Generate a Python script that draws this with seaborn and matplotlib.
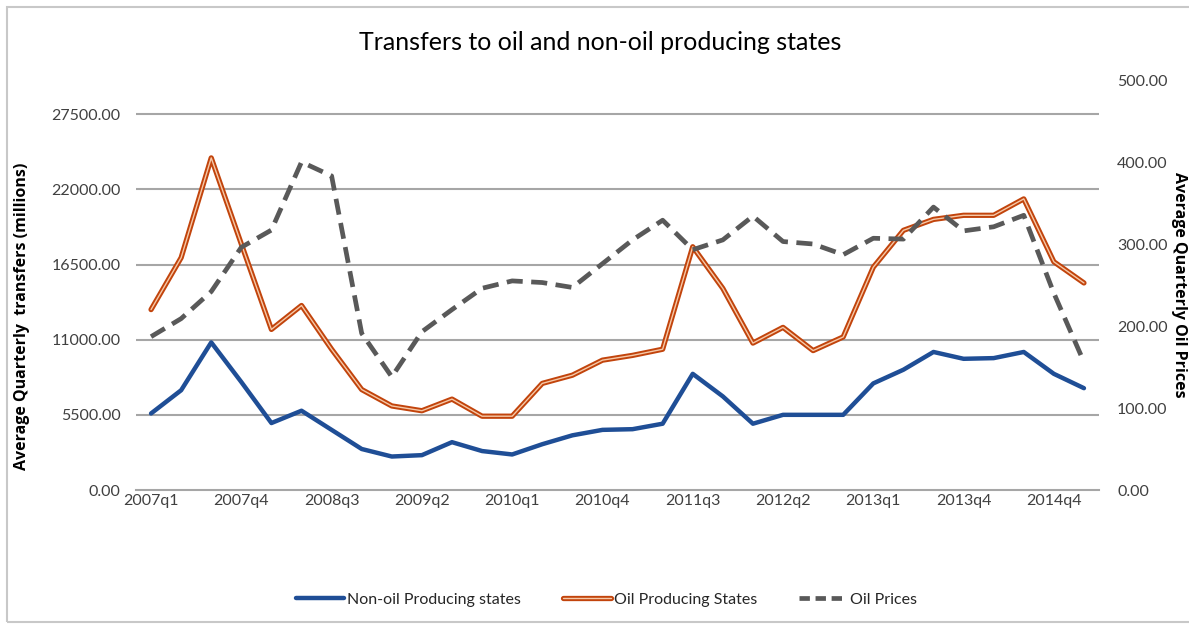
import numpy as np
import pandas as pd
import matplotlib
matplotlib.use("Agg")
import matplotlib.pyplot as plt
import matplotlib.patheffects as pe
from matplotlib.lines import Line2D
from matplotlib.patches import Rectangle
import seaborn as sns

quarters = ["2007q1", "2007q2", "2007q3", "2007q4", "2008q1", "2008q2", "2008q3", "2008q4",
            "2009q1", "2009q2", "2009q3", "2009q4", "2010q1", "2010q2", "2010q3", "2010q4",
            "2011q1", "2011q2", "2011q3", "2011q4", "2012q1", "2012q2", "2012q3", "2012q4",
            "2013q1", "2013q2", "2013q3", "2013q4", "2014q1", "2014q2", "2014q4", "2015q1"]

non_oil = [5600, 7300, 10800, 7900, 4900, 5800, 4400, 3000, 2450, 2550, 3500, 2850,
           2600, 3350, 4000, 4400, 4450, 4850, 8500, 6850, 4850, 5500, 5500, 5500,
           7800, 8800, 10100, 9600, 9650, 10100, 8500, 7450]

oil_states = [13200, 17000, 24300, 18000, 11750, 13500, 10300, 7350, 6150, 5800, 6650, 5400,
              5400, 7800, 8400, 9500, 9850, 10300, 17800, 14750, 10750, 11900, 10200, 11200,
              16300, 19000, 19800, 20100, 20100, 21300, 16700, 15150]

oil_prices = [187, 209, 242, 296, 317, 400, 383, 191, 138, 193, 220, 246,
              255, 253, 247, 276, 305, 329, 293, 305, 334, 303, 300, 287,
              307, 306, 345, 316, 321, 335, 240, 156]

left_ticks = [0, 5500, 11000, 16500, 22000, 27500]
right_ticks = [0, 100, 200, 300, 400, 500]

sns.set_theme(style="white")
plt.rcParams['font.family'] = ['Lato', 'DejaVu Sans']

df = pd.DataFrame({
    "pos": np.arange(len(quarters)),
    "quarter": quarters,
    "non_oil": non_oil,
    "oil_states": oil_states,
    "oil_prices": oil_prices,
})

fig = plt.figure(figsize=(11.89, 6.25), dpi=100)
ax = fig.add_axes([136 / 1189, 1 - 490 / 625, (1099 - 136) / 1189, (490 - 80) / 625])
ax2 = ax.twinx()

blue = "#1F4E96"
orange = "#C2440C"
gray = "#595959"

sns.lineplot(data=df, x="pos", y="non_oil", ax=ax, color=blue, linewidth=3.2,
             solid_capstyle="round", solid_joinstyle="round", zorder=3)
sns.lineplot(data=df, x="pos", y="oil_states", ax=ax, color="#F6C9A8", linewidth=1.0,
             solid_joinstyle="round", zorder=4,
             path_effects=[pe.Stroke(linewidth=3.8, foreground=orange), pe.Normal()])
sns.lineplot(data=df, x="pos", y="oil_prices", ax=ax2, color=gray, linewidth=3.4,
             dashes=False, linestyle=(0, (3.4, 1.8)), zorder=3)

ax.set_xlim(-0.5, len(quarters) - 0.5)
ax.set_ylim(0, 30000)
ax2.set_ylim(0, 500)

ax.set_yticks(left_ticks)
ax.set_yticklabels([f"{v:.2f}" for v in left_ticks], fontsize=11.5, color="#404040")
ax2.set_yticks(right_ticks)
ax2.set_yticklabels([f"{v:.2f}" for v in right_ticks], fontsize=11.5, color="#404040")

label_pos = list(range(0, len(quarters), 3))
ax.set_xticks(label_pos)
ax.set_xticklabels([quarters[i] for i in label_pos], fontsize=11.5, color="#404040")
ax.set_xticks(np.arange(-0.5, len(quarters), 3), minor=True)
ax.tick_params(axis="x", which="major", length=0, pad=3)
ax.tick_params(axis="x", which="minor", length=5, width=1.2, color="#a6a6a6", direction="out")
ax.tick_params(axis="y", length=0, pad=11)
ax2.tick_params(axis="y", length=0, pad=13)

ax.grid(False)
ax2.grid(False)
for v in left_ticks[1:]:
    ax.axhline(v, color="#a6a6a6", linewidth=1.5, zorder=1)

for a in (ax, ax2):
    for s in ("top", "left", "right", "bottom"):
        a.spines[s].set_visible(False)
ax.spines["bottom"].set_visible(True)
ax.spines["bottom"].set_color("#a6a6a6")
ax.spines["bottom"].set_linewidth(1.5)

ax.set_xlabel("")
ax.set_ylabel("")
ax2.set_ylabel("")
fig.text(22 / 1189, 1 - 316 / 625, "Average Quarterly  transfers (millions)",
         rotation=90, ha="center", va="center", fontsize=11.5, fontweight="bold",
         family=["Open Sans", "DejaVu Sans"], color="black")
fig.text(1179 / 1189, 1 - 285 / 625, "Average Quarterly Oil Prices",
         rotation=-90, ha="center", va="center", fontsize=11.5, fontweight="bold",
         family=["Open Sans", "DejaVu Sans"], color="black")

fig.text(0.505, 1 - 42 / 625, "Transfers to oil and non-oil producing states",
         ha="center", va="center", fontsize=18, color="black")

handles = [
    Line2D([], [], color=blue, linewidth=3.2),
    Line2D([], [], color="#F6C9A8", linewidth=1.0,
           path_effects=[pe.Stroke(linewidth=3.8, foreground=orange), pe.Normal()]),
    Line2D([], [], color=gray, linewidth=3.4, linestyle=(0, (2.2, 1.2))),
]
labels = ["Non-oil Producing states", "Oil Producing States", "Oil Prices"]
fig.legend(handles, labels, loc="center", bbox_to_anchor=(0.51, 1 - 600 / 625), ncol=3,
           frameon=False, fontsize=11.5, handlelength=3.0, handletextpad=0.2,
           columnspacing=2.6)

fig.patches.append(Rectangle((7 / 1189, 3 / 625), 1 - 7 / 1189 + 0.01, 1 - 10 / 625,
                             transform=fig.transFigure, fill=False,
                             edgecolor="#c8c8c8", linewidth=1.5))

fig.savefig("out.png", dpi=100, facecolor="white")
